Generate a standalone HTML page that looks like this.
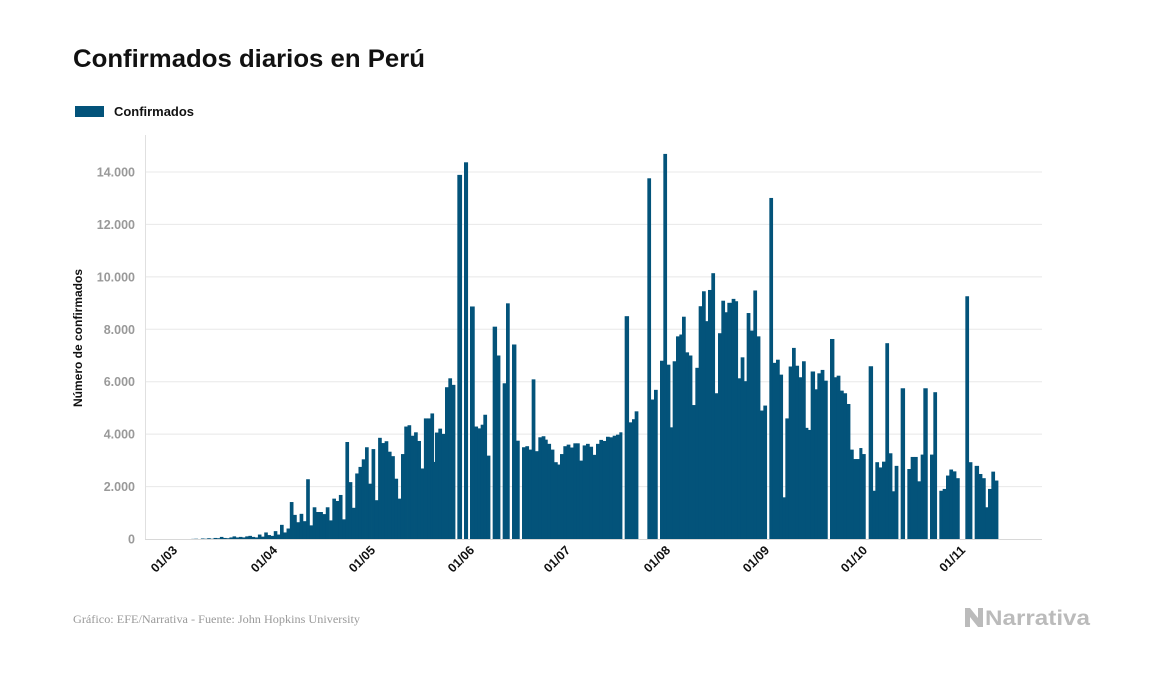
<!DOCTYPE html>
<html><head><meta charset="utf-8"><style>
body{margin:0;background:#fff;width:1157px;height:674px;overflow:hidden;font-family:"Liberation Sans",sans-serif}
</style></head><body>
<svg id="s" width="1157" height="674" xmlns="http://www.w3.org/2000/svg" font-family="Liberation Sans, sans-serif">
<text x="73" y="67" font-size="25" font-weight="bold" fill="#111" textLength="352" lengthAdjust="spacingAndGlyphs">Confirmados diarios en Perú</text>
<rect x="75" y="106" width="29" height="11" fill="#03537a"/>
<text x="114" y="116" font-size="12.5" font-weight="bold" fill="#111" textLength="80" lengthAdjust="spacingAndGlyphs">Confirmados</text>
<text transform="translate(82,338) rotate(-90)" text-anchor="middle" font-size="12" font-weight="bold" fill="#111">Número de confirmados</text>
<g id="grid" stroke="#e8e8e8" stroke-width="1"></g>
<g id="yl" font-size="12.5" font-weight="bold" fill="#999" text-anchor="end"></g>
<line x1="145.5" y1="135" x2="145.5" y2="539" stroke="#e0e0e0"/>
<g id="bars" fill="#03537a"></g>
<line x1="145" y1="539.5" x2="1042" y2="539.5" stroke="#d8d8d8"/>
<g id="xl" font-size="12.5" font-weight="bold" fill="#111" text-anchor="end"></g>
<text x="73" y="623" font-size="11.5" fill="#999" font-family="Liberation Serif, serif" textLength="287" lengthAdjust="spacingAndGlyphs">Gráfico: EFE/Narrativa - Fuente: John Hopkins University</text>
<g fill="#bbb"><path d="M965 608 h5 l8 10 v-10 h5 v19 h-5 l-8 -10 v10 h-5z"/></g>
<text x="985" y="625" font-size="21" font-weight="bold" fill="#bbb" textLength="105" lengthAdjust="spacingAndGlyphs">Narrativa</text>
</svg>
<script>
var NS="http://www.w3.org/2000/svg";
function el(p,t,a,txt){var e=document.createElementNS(NS,t);for(var k in a)e.setAttribute(k,a[k]);if(txt)e.textContent=txt;document.getElementById(p).appendChild(e);}
function Y(v){return 539-v*367/14000;}
for(var i=0;i<=7;i++){var v=i*2000,y=Y(v);if(i>0)el("grid","line",{x1:145,x2:1042,y1:y,y2:y});el("yl","text",{x:135,y:y+4.5},v==0?"0":(v/1000)+".000");}
var ticks=[["01/03",175],["01/04",275],["01/05",373],["01/06",472],["01/07",568],["01/08",668],["01/09",767],["01/10",865],["01/11",963]];
ticks.forEach(function(t){el("xl","text",{transform:"translate("+(t[1]+3)+",551) rotate(-45)"},t[0]);});
function bar(x1,x2,v){if(v<=0)return;var y=Y(v);el("bars","rect",{x:x1,y:y,width:x2-x1+0.4,height:539-y});}
var small=[0,0,5,10,0,20,10,30,10,40,30,80,40,30,60,100,60,80,60,100,120,80,60,170,90,250,150,120,300,170];
small.forEach(function(v,i){bar(185+i*3.17,185+(i+1)*3.17,v);});
var z1=[540,250,400,1410,920,640,960,680,2280,520,1210,1030,1030,950,1210,710,1540,1450,1680,750,3700,2170,1190,2500,2750,3040,3500,2110,3430,1480,3860,3660,3730,3330,3160,2300,1540,3240,4290,4340,3940,4070,3740,2690,4600,4600,4790,2940];
z1.forEach(function(v,i){bar(280+i*3.27,280+(i+1)*3.27,v);});
var seg2=[[8,15,2930],[15,25,4060],[25,35,4210],[35,45,4010],[45,55,5790],[55,65,6130],[65,75,5880],[82,95,13890],[102,113,14370],[120,133,8870],[133,143,4290],[143,152,4220],[152,160,4360],[160,170,4740],[170,180,3180],[188,200,8100],[200,210,7000],[218,228,5940],[228,238,8990],[246,258,7420],[258,268,3750],[276,286,3500],[286,296,3540],[296,305,3410],[305,315,6090],[315,325,3350],[325,335,3880],[335,345,3920],[345,352,3790],[352,362,3630],[362,372,3410],[372,382,2930],[382,390,2840],[390,400,3240],[400,410,3540],[410,420,3600],[420,430,3490],[430,440,3650],[440,448,3650],[448,458,2990],[458,468,3570],[468,478,3630],[478,488,3520],[488,498,3210],[498,508,3630],[508,518,3780],[518,528,3740],[528,538,3900],[538,548,3880],[548,558,3940],[558,568,3980],[568,576,4070],[584,596,8500],[596,606,4450],[606,614,4570],[614,624,4870],[652,662,13760],[662,672,5320],[672,682,5690],[690,700,6800],[700,710,14690],[710,720,6650],[720,728,4260],[728,738,6780],[738,748,7730],[748,756,7800],[756,766,8480],[766,776,7120],[776,786,7000],[786,796,5110],[796,806,6530],[806,816,8880],[816,826,9450],[826,834,8310],[834,844,9500],[844,854,10140],[854,864,5560],[864,874,7850],[874,884,9090],[884,892,8650],[892,900,9010]];
seg2.forEach(function(s){bar(430+s[0]/3,430+s[1]/3,s[2]);});
var seg3=[[30,35,9010],[35,45,9160],[45,53,9070],[53,62,6130],[62,72,6930],[72,80,6020],[80,90,8620],[90,100,7950],[100,110,9480],[110,120,7730],[120,130,4900],[130,140,5090],[148,158,13010],[158,168,6720],[168,178,6840],[178,188,6270],[188,196,1590],[196,206,4600],[206,216,6580],[216,226,7290],[226,236,6610],[236,246,6170],[246,256,6780],[256,264,4240],[264,272,4160],[272,284,6390],[284,292,5710],[292,302,6320],[302,312,6450],[312,322,6040],[330,342,7630],[342,350,6170],[350,360,6230],[360,370,5660],[370,380,5560],[380,390,5150],[390,400,3410],[400,408,3050],[408,418,3050],[418,426,3470],[426,436,3240],[446,458,6590],[458,466,1840],[466,476,2930],[476,486,2730],[486,496,2950],[496,506,7470],[506,516,3270],[516,524,1820],[524,534,2790],[542,554,5750],[562,572,2670],[572,582,3130],[582,592,3130],[592,602,2200],[602,610,3220],[610,622,5750],[630,640,3220],[640,650,5600],[658,668,1840],[668,678,1910],[678,688,2420],[688,698,2650],[698,708,2580],[708,718,2320],[736,746,9260],[746,756,2930],[764,776,2790],[776,786,2480],[786,796,2320],[796,804,1210],[804,814,1910],[814,824,2570],[824,834,2230]];
seg3.forEach(function(s){bar(720+s[0]/3,720+s[1]/3,s[2]);});
</script>
</body></html>
